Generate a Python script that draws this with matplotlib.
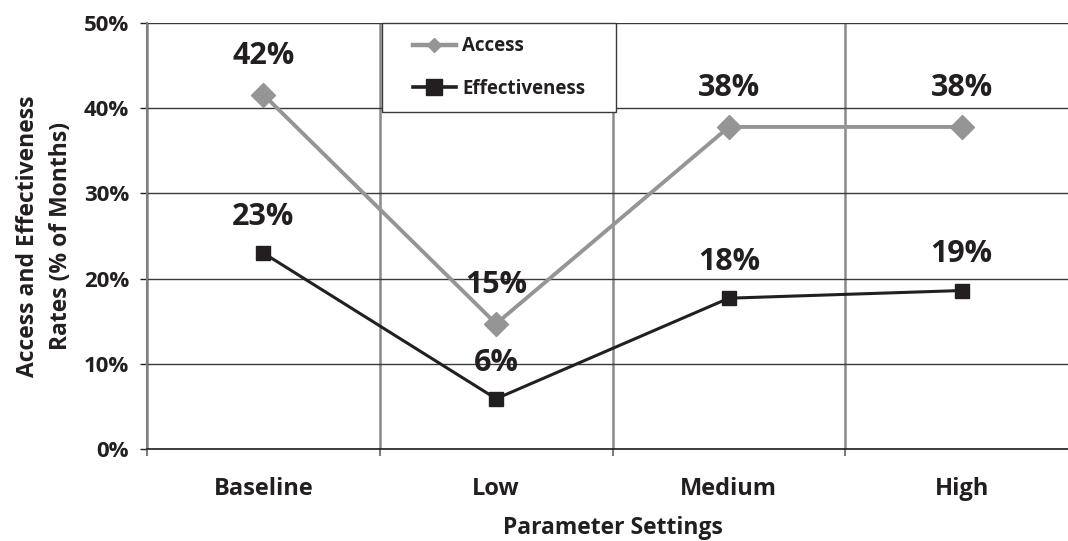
import matplotlib
matplotlib.use("Agg")
import matplotlib.pyplot as plt
from matplotlib.ticker import FixedLocator, PercentFormatter
from matplotlib.patches import Rectangle

categories = ["Baseline", "Low", "Medium", "High"]
access = [0.416, 0.147, 0.378, 0.378]
effectiveness = [0.230, 0.059, 0.177, 0.186]
yticks = [0.0, 0.1, 0.2, 0.3, 0.4, 0.5]

plt.rcParams['font.family'] = ['Open Sans', 'DejaVu Sans']
DARK = '#231f20'
GREY = '#959595'

fig = plt.figure(figsize=(10.68, 5.41), dpi=100)
ax = fig.add_axes([147/1068, 1 - 449/541, 931/1068, 426/541])

x = list(range(len(categories)))
l1, = ax.plot(x, access, color=GREY, lw=2.8, marker='D', ms=12, mec=GREY, mfc=GREY,
              label='Access', zorder=4)
l2, = ax.plot(x, effectiveness, color=DARK, lw=2.2, marker='s', ms=10.5, mec=DARK, mfc=DARK,
              label='Effectiveness', zorder=5)

for xi, v in zip(x, access):
    ax.annotate(f"{round(v*100):d}%", (xi, v), xytext=(0, 28), textcoords='offset points',
                ha='center', va='center', fontsize=22, fontweight='bold', color=DARK, zorder=6)
for xi, v in zip(x, effectiveness):
    ax.annotate(f"{round(v*100):d}%", (xi, v), xytext=(0, 26), textcoords='offset points',
                ha='center', va='center', fontsize=22, fontweight='bold', color=DARK, zorder=6)

ax.set_xlim(-0.5, len(categories) - 0.5)
ax.set_ylim(0, 0.5)
ax.set_yticks(yticks)
ax.yaxis.set_major_formatter(PercentFormatter(1.0, decimals=0))
ax.set_xticks(x)
ax.set_xticklabels(categories)
ax.xaxis.set_minor_locator(FixedLocator([i + 0.5 for i in range(-1, len(categories))]))
ax.tick_params(axis='x', which='major', length=0, pad=20, labelsize=17, labelcolor=DARK)
ax.tick_params(axis='x', which='minor', length=5, width=1.5, color='#7f7f7f', direction='out')
ax.tick_params(axis='y', which='major', length=5, width=1, color=DARK, pad=8,
               labelsize=16, labelcolor=DARK)
for lab in ax.get_xticklabels() + ax.get_yticklabels():
    lab.set_fontweight('bold')

ax.grid(axis='y', color='#3a3a3a', lw=1.0, zorder=1)
ax.grid(axis='x', which='minor', color='#8a8a8a', lw=1.8, zorder=1)
ax.set_axisbelow(True)
for s in ['top', 'right']:
    ax.spines[s].set_visible(False)
ax.spines['left'].set_color('#7f7f7f')
ax.spines['left'].set_linewidth(1.5)
ax.spines['bottom'].set_color(DARK)
ax.spines['bottom'].set_linewidth(1.2)

ax.set_xlabel('Parameter Settings', fontsize=16.5, fontweight='bold', color=DARK, labelpad=11)
ax.set_ylabel('Access and Effectiveness\nRates (% of Months)', fontsize=16.5, fontweight='bold',
              color=DARK, labelpad=8, linespacing=1.45)

# legend box
bx0, bx1 = 235/931, 469/931
by0 = (449 - 112)/426
ax.add_patch(Rectangle((bx0, by0), bx1 - bx0, 1.0 - by0, transform=ax.transAxes,
                       facecolor='white', edgecolor='#3a3a3a', lw=1.0, zorder=9,
                       clip_on=False))
leg = ax.legend(loc='center', bbox_to_anchor=((bx0 + bx1)/2, (by0 + 1.0)/2),
                frameon=False, fontsize=13.5, handlelength=2.3, handletextpad=0.32,
                labelspacing=1.2, borderpad=0.3)
leg.set_zorder(10)
hs = leg.legend_handles
hs[0].set_markersize(7)
hs[0].set_linewidth(3.2)
hs[1].set_markersize(11)
hs[1].set_linewidth(2.6)
for t in leg.get_texts():
    t.set_fontweight('bold')
    t.set_color(DARK)

fig.savefig('out.png', dpi=100)
